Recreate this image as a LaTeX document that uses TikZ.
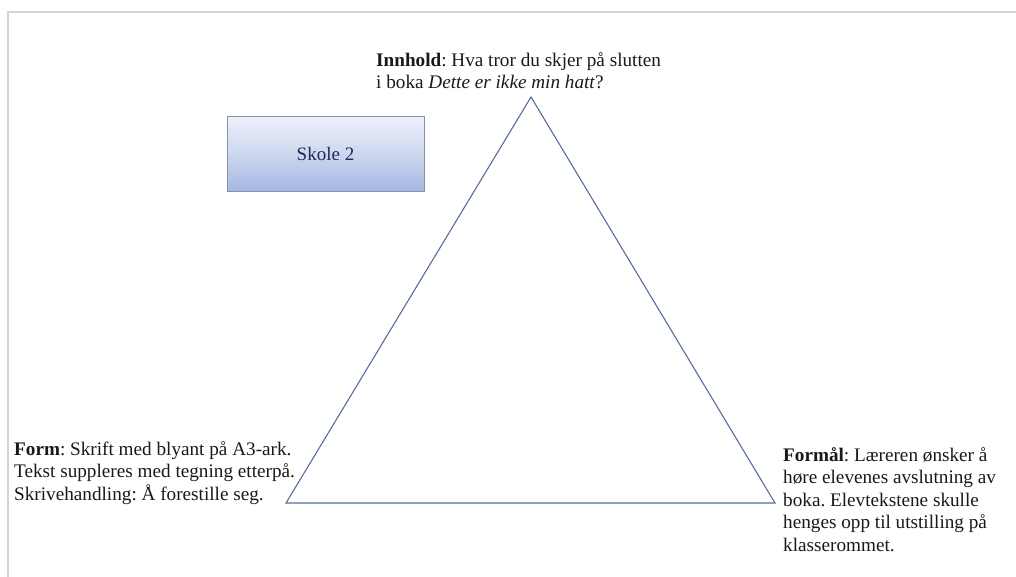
\documentclass[tikz,border=0pt]{standalone}
\usepackage{fontspec}
\setmainfont{Liberation Serif}
\frenchspacing
\definecolor{frame}{RGB}{212,212,212}
\definecolor{tri}{RGB}{84,110,155}
\definecolor{boxtop}{RGB}{238,241,250}
\definecolor{boxbot}{RGB}{164,184,225}
\definecolor{boxline}{RGB}{128,144,176}
\definecolor{boxtext}{RGB}{28,42,88}
\tikzset{
  para/.style={anchor=north west, inner sep=0pt, align=left, font=\fontsize{19.2}{22.5}\selectfont, text=black!90},
  schoolbox/.style={draw=boxline, line width=1pt, top color=boxtop, bottom color=boxbot, middle color=boxtop!55!boxbot,
    minimum width=197pt, minimum height=75pt, inner sep=0pt, font=\fontsize{19}{22}\selectfont, text=boxtext},
  triline/.style={draw=tri, line width=1.1pt, line join=miter},
}
\begin{document}
\begin{tikzpicture}[x=1pt,y=-1pt]
\useasboundingbox (0,0) rectangle (1016,576);
\draw[frame, line width=2pt] (8,577) -- (8,12) -- (1017,12);
\coordinate (apex) at (531,97);
\coordinate (bl) at (286,503);
\coordinate (br) at (775,503);
\draw[triline] (apex) -- (bl) -- (br) -- cycle;
\node[schoolbox] (skole) at (325.5,153.5) {Skole 2};
\node[para] (innhold) at (376,52) {\textbf{Innhold}: Hva tror du skjer på slutten\\i boka \textit{Dette er ikke min hatt}?};
\node[para] (form) at (14,441) {\textbf{Form}: Skrift med blyant på A3-ark.\\Tekst suppleres med tegning etterpå.\\Skrivehandling: Å forestille seg.};
\node[para] (formal) at (783,447) {\textbf{Formål}: Læreren ønsker å\\høre elevenes avslutning av\\boka. Elevtekstene skulle\\henges opp til utstilling på\\klasserommet.};
\end{tikzpicture}
\end{document}
